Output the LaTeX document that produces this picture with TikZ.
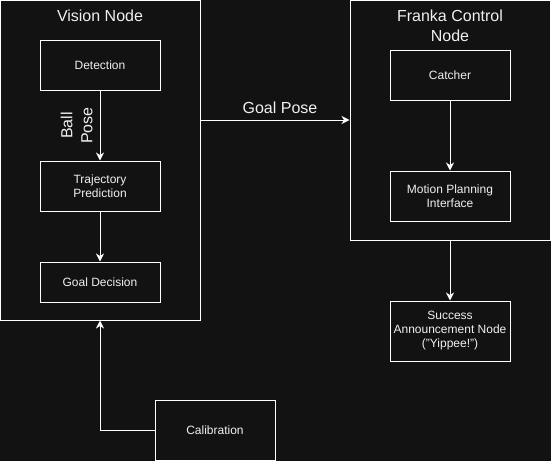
\documentclass[tikz,border=0pt]{standalone}
\usepackage{fontspec}
\setmainfont{Liberation Sans}
\usetikzlibrary{positioning, arrows.meta}
\definecolor{bgcolor}{RGB}{18, 18, 18}
\definecolor{linecolor}{RGB}{255, 255, 255}
\definecolor{textcolor}{RGB}{240, 240, 240}

\begin{document}
\begin{tikzpicture}[
    x=1pt, y=-1pt,
    node distance=70pt and 70pt,
    box/.style={rectangle, draw=linecolor, line width=1pt, minimum width=120pt, minimum height=50pt, align=center, text=textcolor, font=\fontsize{12}{14}\selectfont},
    container/.style={rectangle, draw=linecolor, line width=1pt, minimum width=200pt},
    title/.style={align=center, text=textcolor, font=\fontsize{16}{20}\selectfont, inner sep=0pt},
    arrow/.style={-{Stealth[length=8pt, width=8pt, inset=2.5pt]}, draw=linecolor, line width=1pt},
]

% ============ background ============
\path[fill=bgcolor, use as bounding box] (0,0) rectangle (551,461);

% ============ Vision Node (left) ============
\node[container, minimum height=320pt] (vision) at (100,160) {};
\node[title] (vision_title) at (100,16) {Vision Node};
\node[box] (detection) at (100,65) {Detection};
\node[box, below=of detection] (trajectory) {Trajectory\\Prediction};
\node[box, minimum height=40pt, below=50pt of trajectory] (goal_decision) {Goal Decision};

% ============ Franka Control Node (right) ============
\node[container, minimum height=240pt] (franka) at (450,120) {};
\node[title] (franka_title) at (450,26) {Franka Control\\Node};
\node[box] (catcher) at (450,75) {Catcher};
\node[box, below=of catcher] (motion) {Motion Planning\\Interface};

% ============ outside ============
\node[box, minimum height=60pt, below=60pt of franka] (success) {Success\\Announcement Node\\("Yippee!")};
\node[box, minimum height=60pt] (calibration) at (215,430) {Calibration};

% ============ arrows ============
\draw[arrow] (detection) -- node[midway, rotate=90, anchor=south, inner sep=7pt, text=textcolor, font=\fontsize{16}{20}\selectfont, align=center] (ball_pose) {Ball\\Pose} (trajectory);
\draw[arrow] (trajectory) -- (goal_decision);
\draw[arrow] (catcher) -- (motion);
\draw[arrow] (vision.east |- franka.west) -- node[above, inner sep=6pt, xshift=5pt, text=textcolor, font=\fontsize{16}{20}\selectfont] (goal_pose) {Goal Pose} (franka.west);
\draw[arrow] (franka) -- (success);
\draw[arrow] (calibration.west) -| (vision.south);

\end{tikzpicture}
\end{document}
